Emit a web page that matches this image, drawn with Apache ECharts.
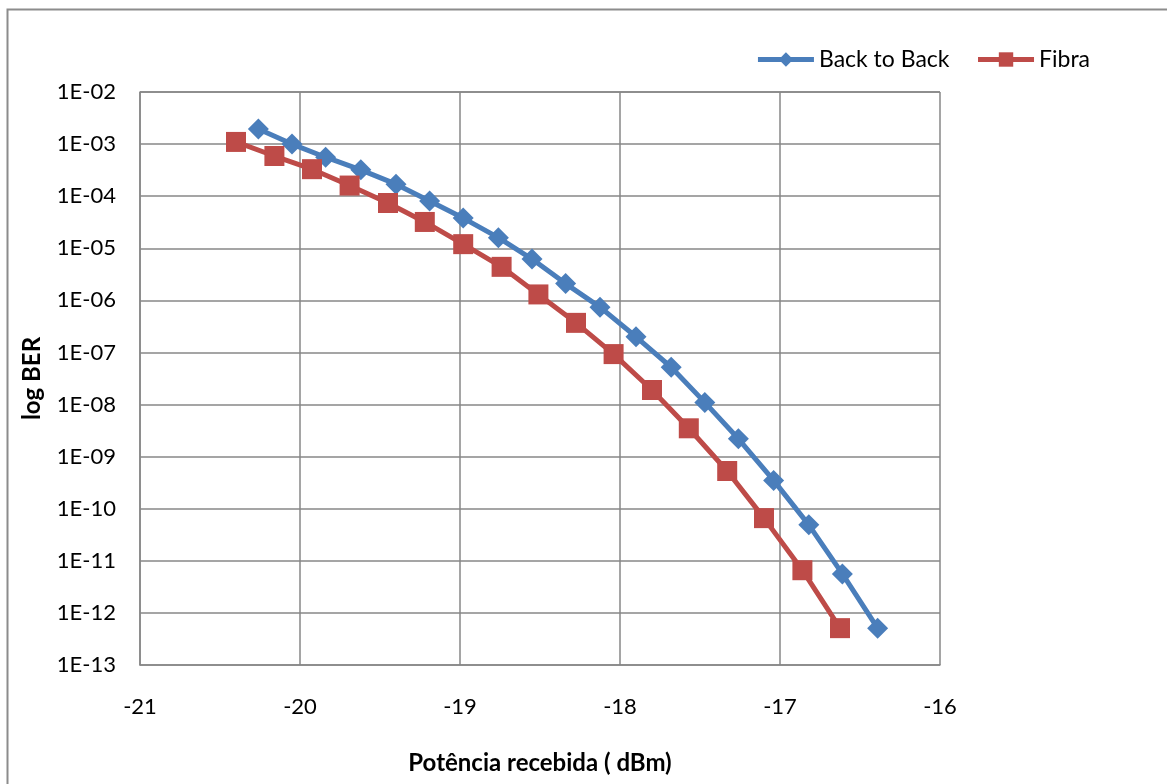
<!DOCTYPE html>
<html>
<head>
<meta charset="utf-8">
<script src="https://cdn.jsdelivr.net/npm/echarts@6/dist/echarts.min.js"></script>
<style>html,body{margin:0;padding:0;background:#fff}#c{width:1167px;height:784px}</style>
</head>
<body>
<div id="c"></div>
<script>
const seriesNames = ['Back to Back', 'Fibra'];
const b2bX = [-20.26, -20.05, -19.84, -19.62, -19.40, -19.19, -18.98, -18.76, -18.55, -18.34, -18.125, -17.90, -17.68, -17.47, -17.26, -17.04, -16.82, -16.61, -16.39];
const b2bY = [1.95e-3, 1.0e-3, 5.6e-4, 3.2e-4, 1.7e-4, 8.1e-5, 3.8e-5, 1.6e-5, 6.2e-6, 2.1e-6, 7.4e-7, 2.0e-7, 5.2e-8, 1.1e-8, 2.2e-9, 3.5e-10, 4.9e-11, 5.6e-12, 5.1e-13];
const fibraX = [-20.40, -20.16, -19.925, -19.69, -19.45, -19.22, -18.98, -18.74, -18.51, -18.275, -18.04, -17.80, -17.57, -17.33, -17.10, -16.86, -16.625];
const fibraY = [1.1e-3, 5.9e-4, 3.3e-4, 1.6e-4, 7.4e-5, 3.2e-5, 1.2e-5, 4.4e-6, 1.3e-6, 3.7e-7, 9.3e-8, 1.9e-8, 3.5e-9, 5.3e-10, 6.6e-11, 6.6e-12, 5.1e-13];
const xMin = -21, xMax = -16, xStep = 1;
const yMin = 1e-13, yMax = 1e-2;
const xTitle = 'Potência recebida ( dBm)';
const yTitle = 'log BER';

const FONT = 'Lato';
const pairs = (xs, ys) => xs.map((x, i) => [x, ys[i]]);
const fmtE = v => {
  const e = Math.round(Math.log10(v));
  const a = Math.abs(e);
  return '1E' + (e < 0 ? '-' : '+') + (a < 10 ? '0' : '') + a;
};
const gridColor = '#878787';

const chart = echarts.init(document.getElementById('c'), null, {renderer: 'canvas'});
chart.setOption({
  animation: false,
  backgroundColor: '#fff',
  textStyle: {fontFamily: FONT},
  graphic: [{
    type: 'rect', silent: true,
    shape: {x: 7.5, y: 9.5, width: 1200, height: 820},
    style: {fill: 'none', stroke: '#8c8c8c', lineWidth: 2}
  }],
  grid: {left: 140, right: 227, top: 92, bottom: 119, containLabel: false},
  legend: {
    right: 72, top: 43,
    itemWidth: 56, itemHeight: 18, itemGap: 26,
    textStyle: {fontFamily: FONT, fontSize: 23, color: '#000'},
    lineStyle: {width: 5},
    data: seriesNames
  },
  xAxis: {
    type: 'value', min: xMin, max: xMax, interval: xStep,
    name: xTitle, nameLocation: 'middle', nameGap: 86,
    nameTextStyle: {fontFamily: FONT, fontSize: 24, fontWeight: 'bold', color: '#000'},
    axisLine: {show: true, lineStyle: {color: gridColor, width: 1.5}},
    axisTick: {show: false},
    splitLine: {show: true, lineStyle: {color: gridColor, width: 1.5}},
    axisLabel: {fontFamily: FONT, fontSize: 22, color: '#000', margin: 31}
  },
  yAxis: {
    type: 'log', logBase: 10, min: yMin, max: yMax, interval: 1,
    name: yTitle, nameLocation: 'middle', nameGap: 96, nameRotate: 90,
    nameTextStyle: {fontFamily: FONT, fontSize: 24, fontWeight: 'bold', color: '#000'},
    axisLine: {show: true, lineStyle: {color: gridColor, width: 1.5}},
    axisTick: {show: false},
    splitLine: {show: true, lineStyle: {color: gridColor, width: 1.5}},
    axisLabel: {fontFamily: FONT, fontSize: 22, color: '#000', margin: 24, formatter: fmtE}
  },
  series: [
    {
      name: seriesNames[0], type: 'line', data: pairs(b2bX, b2bY),
      symbol: 'diamond', symbolSize: 21,
      lineStyle: {color: '#4a7ebb', width: 5},
      itemStyle: {color: '#4a7ebb'},
      smooth: false
    },
    {
      name: seriesNames[1], type: 'line', data: pairs(fibraX, fibraY),
      symbol: 'rect', symbolSize: 20,
      lineStyle: {color: '#be4b48', width: 5},
      itemStyle: {color: '#be4b48'},
      smooth: false
    }
  ]
});
</script>
</body>
</html>
